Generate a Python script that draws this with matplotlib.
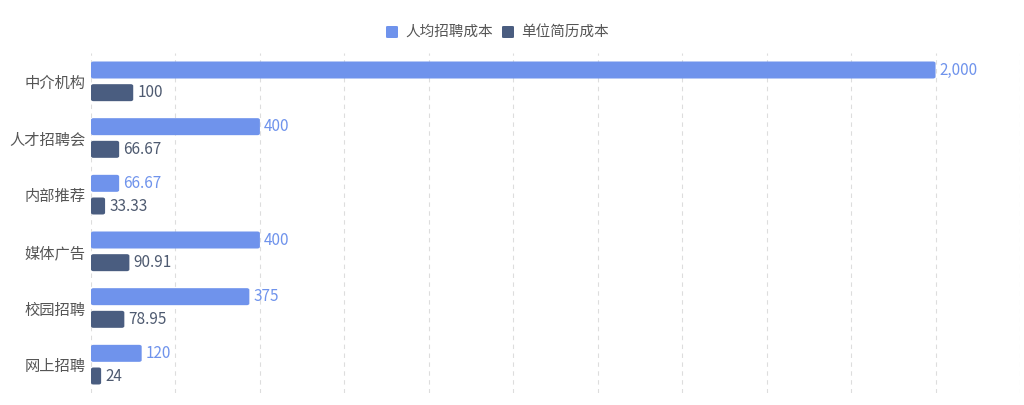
import numpy as np
import matplotlib.pyplot as plt
from matplotlib.patches import FancyBboxPatch

plt.rcParams['font.family'] = ['Noto Sans CJK SC', 'DejaVu Sans']

# data, top to bottom
channels = ['中介机构', '人才招聘会', '内部推荐', '媒体广告', '校园招聘', '网上招聘']
cost_per_hire = [2000, 400, 66.67, 400, 375, 120]
cost_per_resume = [100, 66.67, 33.33, 90.91, 78.95, 24]
series_names = ['人均招聘成本', '单位简历成本']

light = '#6f93ec'
dark = '#4a5d80'
dark_text = '#4e5a70'

fig = plt.figure(figsize=(10.24, 4.05), dpi=100)
ax = fig.add_axes([91 / 1024, 1 - 393 / 405, (1020 - 91) / 1024, (393 - 53) / 405])

y = np.arange(len(channels))
h = 0.3


def rounded_bars(ax, vals, centers, color):
    for v, c in zip(vals, centers):
        p = FancyBboxPatch((0, c - h / 2), v, h,
                           boxstyle='round,pad=0,rounding_size=6',
                           mutation_aspect=h / 60,
                           facecolor=color, edgecolor='none')
        ax.add_patch(p)


rounded_bars(ax, cost_per_hire, y - 0.2, light)
rounded_bars(ax, cost_per_resume, y + 0.2, dark)

for i in range(len(channels)):
    v1 = cost_per_hire[i]
    v2 = cost_per_resume[i]
    t1 = f'{v1:,.0f}' if float(v1).is_integer() else f'{v1:g}'
    t2 = f'{v2:,.0f}' if float(v2).is_integer() else f'{v2:g}'
    ax.text(v1 + 10, y[i] - 0.2, t1, color=light, fontsize=11, va='center', ha='left')
    ax.text(v2 + 10, y[i] + 0.2, t2, color=dark_text, fontsize=11, va='center', ha='left')

ax.set_xlim(0, 2200)
ax.set_ylim(len(channels) - 0.5, -0.5)
ax.set_xticks(np.arange(0, 2201, 200))
ax.set_xticklabels([])
ax.tick_params(axis='x', length=0)
ax.set_yticks(y)
ax.set_yticklabels(channels, fontsize=11, color='#555555')
ax.tick_params(axis='y', length=0, pad=4)
ax.grid(axis='x', linestyle=(0, (4, 4)), color='#dddddd', linewidth=0.8)
ax.set_axisbelow(True)
for s in ax.spines.values():
    s.set_visible(False)

# legend drawn at top centre
for x0, col, name in [(386, light, series_names[0]), (502, dark, series_names[1])]:
    fig.patches.append(FancyBboxPatch((x0 / 1024, 1 - 38 / 405), 12 / 1024, 12 / 405,
                                      boxstyle='round,pad=0,rounding_size=0.002',
                                      transform=fig.transFigure, facecolor=col,
                                      edgecolor='none'))
    fig.text((x0 + 19) / 1024, 1 - 32 / 405, name, fontsize=10.5, color='#555555',
             va='center', ha='left')

fig.savefig('out.png', dpi=100)
